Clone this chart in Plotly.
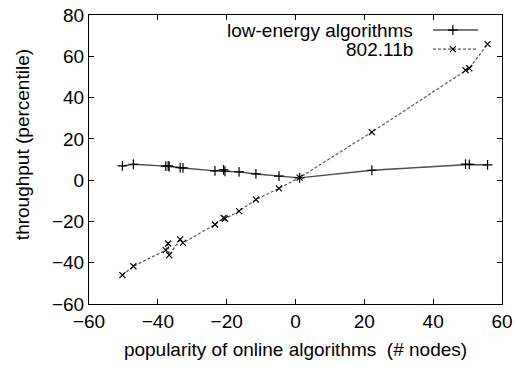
import plotly.graph_objects as go

# shared x positions (# nodes)
nodes = [-50.3, -47.1, -37.7, -37.0, -36.7, -33.5, -32.7, -23.4, -20.9, -20.5,
         -16.4, -11.5, -4.8, 1.2, 22.2, 49.4, 50.5, 55.8]
low_energy = [6.9, 7.7, 6.8, 6.9, 6.6, 6.1, 5.9, 4.5, 5.0, 4.3,
              4.0, 3.0, 1.9, 1.1, 4.8, 7.8, 7.6, 7.4]
wifi_80211b = [-46.0, -41.7, -33.9, -30.7, -36.3, -28.7, -30.4, -21.5, -18.3, -18.7,
               -15.0, -9.4, -4.0, 1.2, 23.3, 53.3, 54.2, 65.9]
series_names = ["low-energy algorithms", "802.11b"]
x_ticks = [-60, -40, -20, 0, 20, 40, 60]
y_ticks = [-60, -40, -20, 0, 20, 40, 60, 80]

FONT = "Liberation Sans, Arial, sans-serif"
FS = 19
fig = go.Figure()

line_styles = [dict(color="#4d4d4d", width=1.4),
               dict(color="#5a5a5a", width=1.2, dash="3px,2px")]
marker_styles = [dict(symbol="cross-thin", size=7, line=dict(color="black", width=1.2)),
                 dict(symbol="x-thin", size=6, line=dict(color="black", width=1.2))]

for ys, ls, ms in zip([low_energy, wifi_80211b], line_styles, marker_styles):
    fig.add_trace(go.Scatter(x=nodes, y=ys, mode="lines+markers", showlegend=False,
                             line=ls, marker=ms))

# gnuplot-style legend (text on the left, sample on the right), in plot-fraction coords
rows_y = [0.948, 0.882]
for name, ry, ls, ms in zip(series_names, rows_y, line_styles, marker_styles):
    fig.add_trace(go.Scatter(x=[0.833, 0.942], y=[ry, ry], mode="lines", line=ls,
                             xaxis="x2", yaxis="y2", showlegend=False, hoverinfo="skip"))
    fig.add_trace(go.Scatter(x=[0.881], y=[ry], mode="markers", marker=ms,
                             xaxis="x2", yaxis="y2", showlegend=False, hoverinfo="skip"))
    fig.add_annotation(x=0.789, y=ry, xref="x2", yref="y2", text=name, showarrow=False,
                       xanchor="right", yanchor="middle",
                       font=dict(family=FONT, size=FS, color="black"))

# y-axis title (placed slightly above the centre, as in the original)
fig.add_annotation(x=-0.162, y=0.55, xref="paper", yref="paper",
                   text="throughput (percentile)", textangle=-90, showarrow=False,
                   xanchor="center", yanchor="middle",
                   font=dict(family=FONT, size=FS, color="black"))

axis_common = dict(showline=True, linecolor="black", linewidth=1, mirror="ticks",
                   ticks="inside", ticklen=5, tickcolor="black", tickwidth=1,
                   showgrid=False, zeroline=False, automargin=False,
                   tickfont=dict(family=FONT, size=FS, color="black"))

fig.update_layout(
    width=516, height=366,
    margin=dict(l=89, r=14, t=15, b=62, autoexpand=False),
    paper_bgcolor="white", plot_bgcolor="white",
    xaxis=dict(range=[-60, 60], tickvals=x_ticks,
               title=dict(text="popularity of online algorithms  (# nodes)",
                          font=dict(family=FONT, size=FS, color="black"), standoff=11),
               **axis_common),
    yaxis=dict(range=[-60, 80], tickvals=y_ticks, **axis_common),
    xaxis2=dict(overlaying="x", range=[0, 1], visible=False, fixedrange=True),
    yaxis2=dict(overlaying="y", range=[0, 1], visible=False, fixedrange=True),
    showlegend=False,
)

fig.write_html("out.html")
